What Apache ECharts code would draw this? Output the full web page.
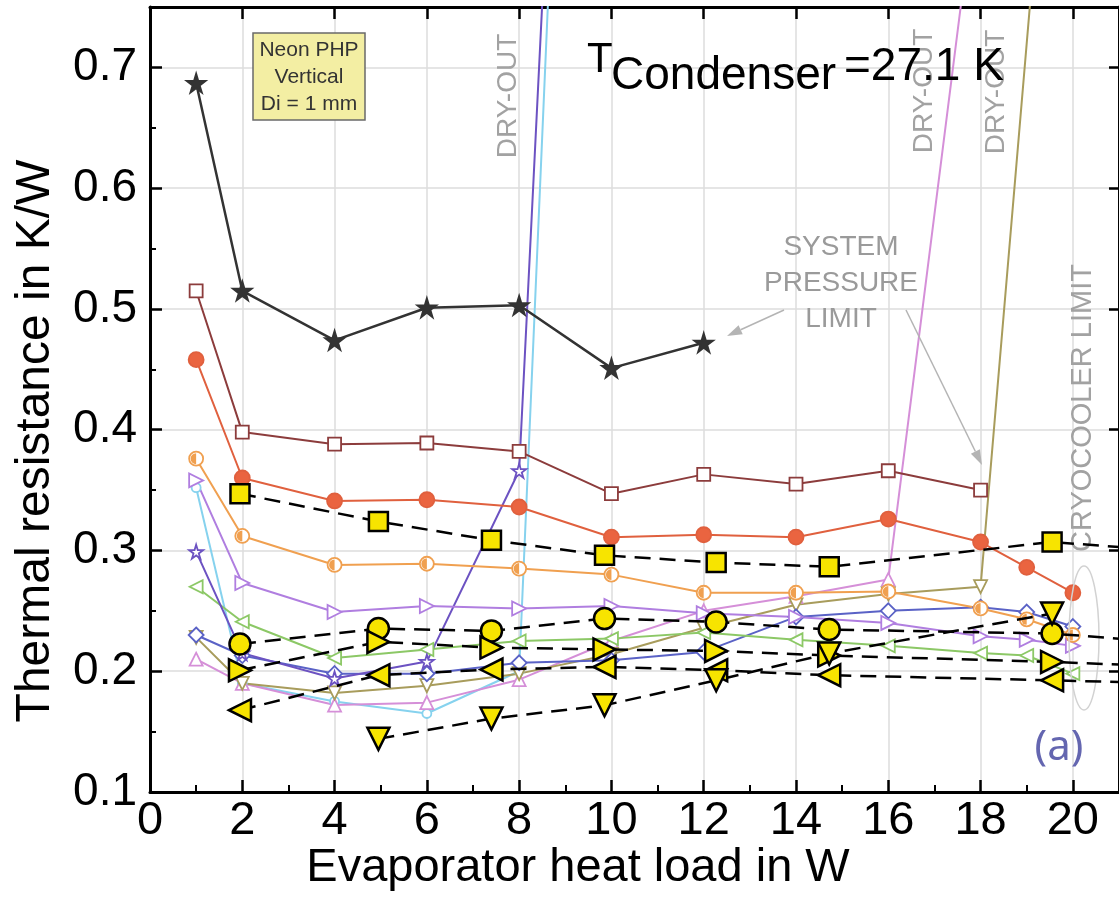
<!DOCTYPE html>
<html>
<head>
<meta charset="utf-8">
<script src="https://cdn.jsdelivr.net/npm/echarts@6/dist/echarts.min.js"></script>
<style>
html,body{margin:0;padding:0;background:#fff;}
#chart{width:1119px;height:905px;}
</style>
</head>
<body>
<div id="chart"></div>
<script>
// ---------- data (heat load in W, thermal resistance in K/W) ----------
const starX   = [1, 2, 4, 6, 8, 10, 12];
const starR   = [0.687, 0.515, 0.474, 0.501, 0.503, 0.451, 0.472];

const brownX  = [1, 2, 4, 6, 8, 10, 12, 14, 16, 18];
const brownR  = [0.515, 0.398, 0.388, 0.389, 0.382, 0.347, 0.363, 0.355, 0.366, 0.350];

const redX    = [1, 2, 4, 6, 8, 10, 12, 14, 16, 18, 19, 20];
const redR    = [0.458, 0.360, 0.341, 0.342, 0.336, 0.311, 0.313, 0.311, 0.326, 0.307, 0.286, 0.265];

const orangeX = [1, 2, 4, 6, 8, 10, 12, 14, 16, 18, 19, 20];
const orangeR = [0.376, 0.312, 0.288, 0.289, 0.285, 0.280, 0.265, 0.265, 0.266, 0.252, 0.243, 0.230];

const lavX    = [1, 2, 4, 6, 8, 10, 12, 14, 16, 18, 19, 20];
const lavR    = [0.358, 0.273, 0.249, 0.254, 0.252, 0.254, 0.248, 0.245, 0.240, 0.229, 0.226, 0.221];

const vioX    = [1, 2, 4, 6, 8, 8.6];
const vioR    = [0.299, 0.215, 0.194, 0.208, 0.366, 0.83];

const cyanX   = [1, 2, 4, 6, 8, 8.7];
const cyanR   = [0.352, 0.190, 0.175, 0.165, 0.200, 0.82];

const greenX  = [1, 2, 4, 6, 8, 10, 12, 14, 16, 18, 19, 20];
const greenR  = [0.270, 0.241, 0.211, 0.218, 0.225, 0.227, 0.232, 0.226, 0.221, 0.215, 0.213, 0.198];

const blueX   = [1, 2, 4, 6, 8, 10, 12, 14, 16, 18, 19, 20];
const blueR   = [0.230, 0.213, 0.198, 0.198, 0.207, 0.209, 0.216, 0.245, 0.250, 0.253, 0.249, 0.237];

const oliveX  = [1, 2, 4, 6, 8, 10, 12, 14, 16, 18, 19.2];
const oliveR  = [0.228, 0.190, 0.182, 0.188, 0.198, 0.214, 0.236, 0.255, 0.264, 0.270, 0.81];

const pinkX   = [1, 2, 4, 6, 8, 10, 12, 14, 16, 17.8];
const pinkR   = [0.210, 0.190, 0.172, 0.174, 0.193, 0.225, 0.250, 0.262, 0.276, 0.82];

// dashed series with yellow markers
const yX      = [1.95, 4.95, 7.4, 9.85, 12.27, 14.72, 19.55, 22];
const ySquare = [0.347, 0.324, 0.3085, 0.296, 0.290, 0.2865, 0.307, 0.300];
const yCircle = [0.2225, 0.2353, 0.2334, 0.2436, 0.2408, 0.2345, 0.2312, 0.224];
const yRight  = [0.2008, 0.2243, 0.2196, 0.218, 0.2168, 0.213, 0.2077, 0.204];
const yLeft   = [0.1677, 0.1967, 0.2014, 0.2036, 0.2008, 0.1967, 0.1925, 0.190];
const yDownX  = [4.95, 7.4, 9.85, 12.27, 14.72, 19.55];
const yDown   = [0.144, 0.1608, 0.1718, 0.1925, 0.2147, 0.2478];

const xTicks = {min: 0, max: 21, interval: 2};
const yTicks = {min: 0.1, max: 0.75, interval: 0.1};

// ---------- helpers ----------
const pairs = (xs, ys) => xs.map((x, i) => [x, ys[i]]);
const STAR = 'path://M50,0 L61,35 L98,35 L68,57 L79,91 L50,70 L21,91 L32,57 L2,35 L39,35 Z';
const HALF = 'path://M10,0 A10,10 0 0,0 10,20 Z';
const SANS = '"Liberation Sans", Arial, sans-serif';
const NARROW = '"Liberation Sans Narrow", "Liberation Sans", Arial, sans-serif';

function bg(xs, ys, color, symbol, o) {
  o = o || {};
  return {
    type: 'line', data: pairs(xs, ys), symbol: symbol,
    symbolSize: o.size || 12, symbolRotate: o.rot || 0,
    lineStyle: {color: color, width: o.lw || 2},
    itemStyle: {color: o.fill || '#fff', borderColor: color, borderWidth: o.bw || 1.8},
    z: o.z || 2, clip: true, animation: false, silent: true
  };
}
function fg(xs, ys, symbol, size, rot) {
  return {
    type: 'line', data: pairs(xs, ys), symbol: symbol, symbolSize: size, symbolRotate: rot || 0,
    lineStyle: {color: '#000', width: 2.5, type: [16, 9]},
    itemStyle: {color: '#f7e400', borderColor: '#000', borderWidth: 2.5},
    z: 6, clip: true, animation: false, silent: true
  };
}
function arrow(x1, y1, x2, y2) {
  const dx = x2 - x1, dy = y2 - y1, L = Math.hypot(dx, dy), ux = dx / L, uy = dy / L;
  const nx = -uy, ny = ux, hl = 15, hw = 5;
  const bx = x2 - ux * hl, by = y2 - uy * hl;
  return [
    {type: 'line', z: 8, shape: {x1: x1, y1: y1, x2: bx, y2: by}, style: {stroke: '#b4b4b4', lineWidth: 1.5}},
    {type: 'polygon', z: 8, shape: {points: [[x2, y2], [bx + nx * hw, by + ny * hw], [bx - nx * hw, by - ny * hw]]}, style: {fill: '#b4b4b4'}}
  ];
}
function txt(x, y, text, size, color, o) {
  o = o || {};
  return {
    type: 'text', x: x, y: y, rotation: o.rot || 0, z: o.z || 9,
    style: {
      text: text, x: 0, y: 0, fontSize: size, fontFamily: o.family || SANS,
      fill: color, textAlign: o.align || 'center', textVerticalAlign: 'middle', verticalAlign: 'middle',
      lineHeight: o.lh
    }
  };
}

const series = [
  bg(cyanX, cyanR, '#86d2ee', 'circle', {size: 9, z: 2}),
  bg(pinkX, pinkR, '#d58fd8', 'triangle', {size: 13}),
  bg(oliveX, oliveR, '#a89c5c', 'triangle', {size: 13, rot: 180}),
  bg(blueX, blueR, '#5a62c6', 'diamond', {size: 15}),
  bg(greenX, greenR, '#8cc866', 'triangle', {size: 13, rot: 90}),
  bg(vioX, vioR, '#6c52c2', STAR, {size: 14}),
  bg(lavX, lavR, '#b07ee0', 'triangle', {size: 14, rot: -90}),
  bg(orangeX, orangeR, '#f0a050', 'circle', {size: 14, bw: 1.8}),
  {type: 'line', data: pairs(orangeX, orangeR), symbol: HALF, symbolSize: [5.5, 11], symbolOffset: [-2.75, 0],
   lineStyle: {opacity: 0}, itemStyle: {color: '#f0a050'}, z: 3, animation: false, silent: true},
  bg(redX, redR, '#e0603e', 'circle', {size: 15, fill: '#ea6440', lw: 2}),
  bg(brownX, brownR, '#8c3c3c', 'rect', {size: 13, lw: 2}),
  bg(starX, starR, '#333333', STAR, {size: 19, fill: '#333333', lw: 2.5, z: 3}),
  fg(yX, ySquare, 'rect', 19),
  fg(yX, yCircle, 'circle', 21),
  fg(yX, yRight, 'triangle', 22, -90),
  fg(yX, yLeft, 'triangle', 22, 90),
  fg(yDownX, yDown, 'triangle', 22, 180)
];

const graphics = [
  // info box
  {type: 'rect', z: 7, shape: {x: 253, y: 33, width: 112, height: 87},
   style: {fill: '#f3eea3', stroke: '#6a6a6a', lineWidth: 1.5}},
  txt(309, 77, 'Neon PHP\nVertical\nDi = 1 mm', 21, '#333', {lh: 27}),
  // condenser temperature
  txt(587, 60, 'T', 42, '#000', {align: 'left'}),
  txt(611, 76, 'Condenser', 46, '#000', {align: 'left'}),
  txt(844, 67, '=27.1 K', 46, '#000', {align: 'left', z: 10}),
  // dry-out labels
  txt(508, 96, 'DRY-OUT', 28, '#a2a2a2', {rot: Math.PI / 2, z: 5}),
  txt(924, 91, 'DRY-OUT', 28, '#a2a2a2', {rot: Math.PI / 2, z: 5}),
  txt(996, 92, 'DRY-OUT', 28, '#a2a2a2', {rot: Math.PI / 2, z: 5}),
  // system pressure limit
  txt(841, 283, 'SYSTEM\nPRESSURE\nLIMIT', 28, '#9a9a9a', {lh: 36}),
  ...arrow(784, 310, 727, 336),
  ...arrow(906, 310, 982, 465),
  // cryocooler limit
  txt(1083, 408, 'CRYOCOOLER LIMIT', 29, '#a2a2a2', {rot: Math.PI / 2, z: 5}),
  {type: 'ellipse', z: 4, shape: {cx: 1084, cy: 638, rx: 15, ry: 72},
   style: {fill: 'none', stroke: '#d2d2d2', lineWidth: 1.5}},
  txt(1059, 748, '(a)', 42, '#6466b0', {family: '"Noto Sans", "Open Sans", sans-serif'}),
  // axis titles
  txt(36, 441, 'Thermal resistance in K/W', 48, '#000', {rot: Math.PI / 2}),
  txt(578, 868, 'Evaporator heat load in W', 47, '#000')
];

const chart = echarts.init(document.getElementById('chart'), null, {renderer: 'canvas'});
chart.setOption({
  animation: false,
  backgroundColor: '#fff',
  grid: {left: 150, right: -7, top: 7, bottom: 113, containLabel: false},
  xAxis: [
    {type: 'value', min: xTicks.min, max: xTicks.max, interval: xTicks.interval, position: 'bottom',
     axisLine: {show: true, onZero: false, lineStyle: {color: '#000', width: 3}},
     axisTick: {show: true, inside: true, length: 12, lineStyle: {color: '#000', width: 2.5}},
     minorTick: {show: true, splitNumber: 2, length: 7, lineStyle: {color: '#000', width: 2}},
     axisLabel: {show: true, fontSize: 47, fontFamily: NARROW, color: '#000', margin: 6, showMaxLabel: false},
     splitLine: {show: true, lineStyle: {color: '#dcdcdc', width: 1.5}}},
    {type: 'value', min: xTicks.min, max: xTicks.max, interval: xTicks.interval, position: 'top',
     axisLine: {show: true, onZero: false, lineStyle: {color: '#000', width: 3}},
     axisTick: {show: true, inside: true, length: 12, lineStyle: {color: '#000', width: 2.5}},
     axisLabel: {show: false}, splitLine: {show: false}}
  ],
  yAxis: [
    {type: 'value', min: yTicks.min, max: yTicks.max, interval: yTicks.interval, position: 'left',
     axisLine: {show: true, onZero: false, lineStyle: {color: '#000', width: 3}},
     axisTick: {show: true, inside: true, length: 12, lineStyle: {color: '#000', width: 2.5}},
     minorTick: {show: true, splitNumber: 2, length: 6, lineStyle: {color: '#000', width: 2}},
     axisLabel: {show: true, fontSize: 46, fontFamily: SANS, color: '#000', margin: 13, showMaxLabel: false,
                 formatter: v => v.toFixed(1)},
     splitLine: {show: true, lineStyle: {color: '#dcdcdc', width: 1.5}}},
    {type: 'value', min: yTicks.min, max: yTicks.max, interval: yTicks.interval, position: 'right',
     axisLine: {show: true, onZero: false, lineStyle: {color: '#000', width: 3}},
     axisTick: {show: true, inside: true, length: 10, lineStyle: {color: '#000', width: 2.5}},
     axisLabel: {show: false}, splitLine: {show: false}}
  ],
  series: series,
  graphic: graphics
});
</script>
</body>
</html>
